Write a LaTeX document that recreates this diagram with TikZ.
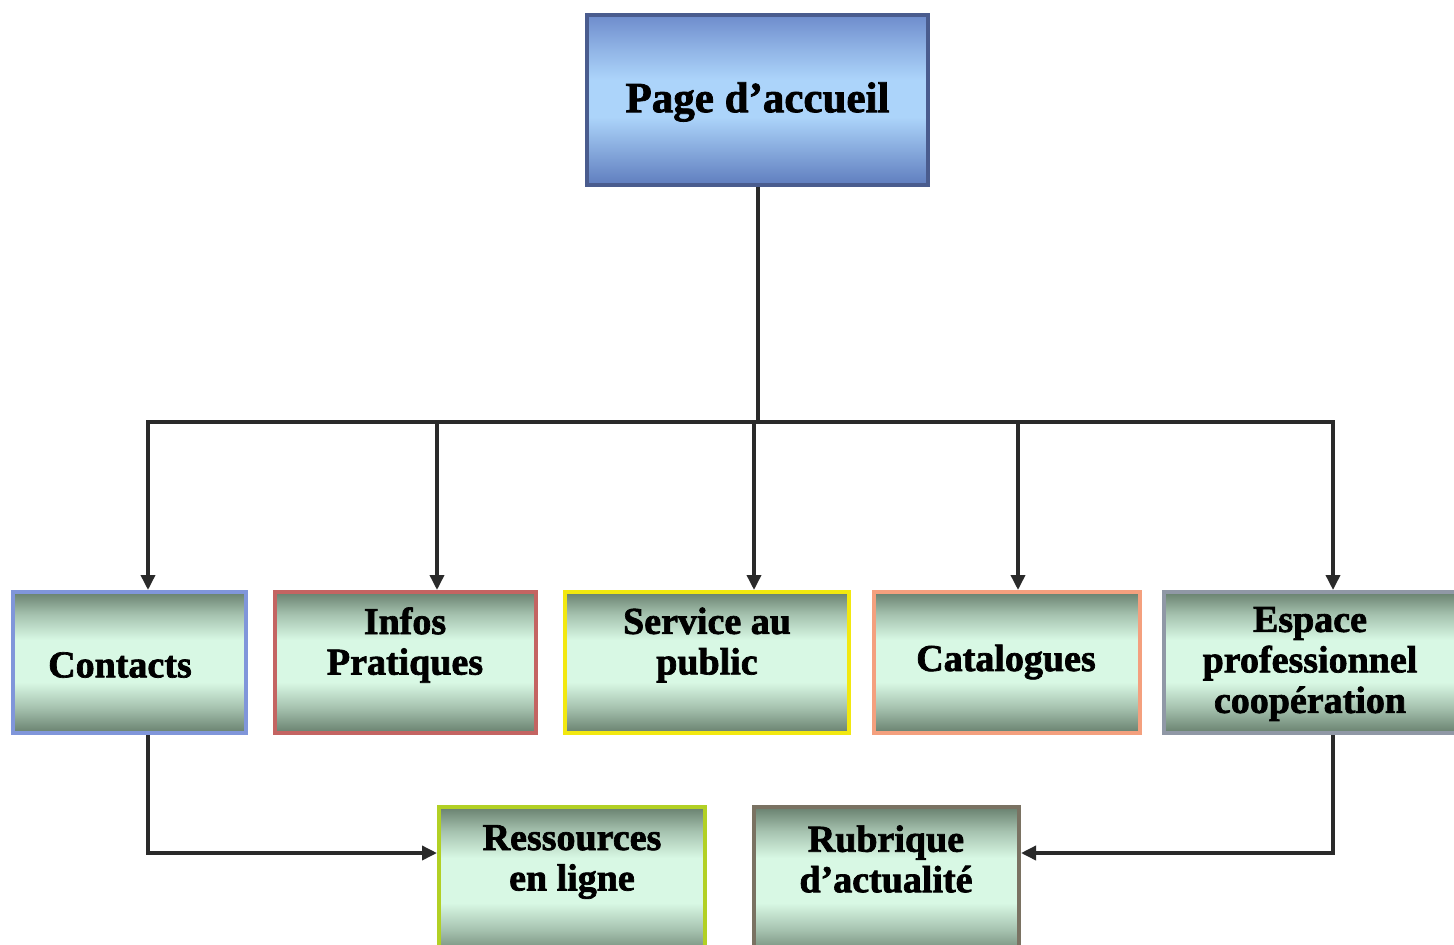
\documentclass[tikz,border=0pt]{standalone}
\usepackage{fontspec}
\setmainfont{Liberation Serif}[BoldFeatures={FakeBold=1.8}]
\usetikzlibrary{arrows.meta}
\definecolor{homeborder}{HTML}{4A5C8E}
\definecolor{homeout}{HTML}{6E8CCC}
\definecolor{homebot}{HTML}{5F7DBE}
\definecolor{homemid}{HTML}{ACD4FA}
\definecolor{subout}{HTML}{68806E}
\definecolor{submid}{HTML}{D8F8E4}
\definecolor{bcontacts}{HTML}{8096DA}
\definecolor{binfos}{HTML}{C46462}
\definecolor{bservice}{HTML}{F2E810}
\definecolor{bcatal}{HTML}{F4A07E}
\definecolor{bespace}{HTML}{9098A6}
\definecolor{bress}{HTML}{B2D024}
\definecolor{brub}{HTML}{7A7262}
\definecolor{linec}{HTML}{2A2A2A}
\pgfdeclareverticalshading{subshade}{100bp}{color(0bp)=(subout); color(25bp)=(subout);
  color(34bp)=(subout!45!submid); color(43bp)=(submid); color(58bp)=(submid);
  color(67bp)=(subout!45!submid); color(75bp)=(subout); color(100bp)=(subout)}
\pgfdeclareverticalshading{homeshade}{100bp}{color(0bp)=(homebot); color(25bp)=(homebot);
  color(36bp)=(homebot!45!homemid); color(45bp)=(homemid); color(56bp)=(homemid);
  color(65bp)=(homeout!45!homemid); color(75bp)=(homeout); color(100bp)=(homeout)}
\tikzset{
  homebox/.style={draw=homeborder, line width=4.5pt, inner sep=0pt, shading=homeshade},
  subbox/.style={line width=4pt, inner sep=0pt, minimum height=141pt, shading=subshade},
  lbl/.style={align=center, font=\fontsize{38}{40.5}\selectfont\bfseries, text=black},
  conn/.style={draw=linec, line width=3.5pt},
  arr/.style={conn, -{Triangle[length=15pt,width=14pt]}}
}
\begin{document}
\begin{tikzpicture}[x=1pt,y=-1pt]
\useasboundingbox (0,0) rectangle (1454,945);
\clip (0,0) rectangle (1454,945);
\fill[white] (0,0) rectangle (1454,945);

% boxes
\node[homebox, minimum width=341pt, minimum height=170pt] (home) at (757.5,100) {};
\node[subbox, draw=bcontacts, minimum width=233pt] (contacts) at (129.5,662.5) {};
\node[subbox, draw=binfos, minimum width=261pt] (infos) at (405.5,662.5) {};
\node[subbox, draw=bservice, minimum width=284pt] (service) at (707,662.5) {};
\node[subbox, draw=bcatal, minimum width=266pt] (catal) at (1007,662.5) {};
\node[subbox, draw=bespace, minimum width=295pt] (espace) at (1311.5,662.5) {};
\node[subbox, draw=bress, minimum width=266pt, minimum height=150pt] (ress) at (572,882) {};
\node[subbox, draw=brub, minimum width=265pt, minimum height=150pt] (rub) at (886.5,882) {};

% labels
\node[lbl, font=\fontsize{43}{48}\selectfont\bfseries] (thome) at (757.5,102) {Page d’accueil};
\node[lbl] (tcontacts) at (120,665) {Contacts};
\node[lbl] (tinfos) at (405,645) {Infos\\Pratiques};
\node[lbl] (tservice) at (707,645) {Service au\\public};
\node[lbl] (tcatal) at (1006,662) {Catalogues};
\node[lbl] (tespace) at (1310,664) {Espace\\professionnel\\coopération};
\node[lbl] (tress) at (572,862) {Ressources\\en ligne};
\node[lbl] (trub) at (886,859) {Rubrique\\d’actualité};

% connectors
\coordinate (j0) at (758,422);
\coordinate (j1) at (148,422);
\coordinate (j2) at (437,422);
\coordinate (j3) at (754,422);
\coordinate (j4) at (1018,422);
\coordinate (j5) at (1333,422);
\coordinate (rin) at (437,853);
\coordinate (rubin) at (1021,853);

\draw[conn] (home.south -| j0) -- (j0);
\draw[conn, line cap=rect] (j1) -- (j5);
\draw[arr] (j1) -- (j1 |- contacts.north);
\draw[arr] (j2) -- (j2 |- infos.north);
\draw[arr] (j3) -- (j3 |- service.north);
\draw[arr] (j4) -- (j4 |- catal.north);
\draw[arr] (j5) -- (j5 |- espace.north);
\draw[arr] (j1 |- contacts.south) |- (rin);
\draw[arr] (j5 |- espace.south) |- (rubin);
\end{tikzpicture}
\end{document}
